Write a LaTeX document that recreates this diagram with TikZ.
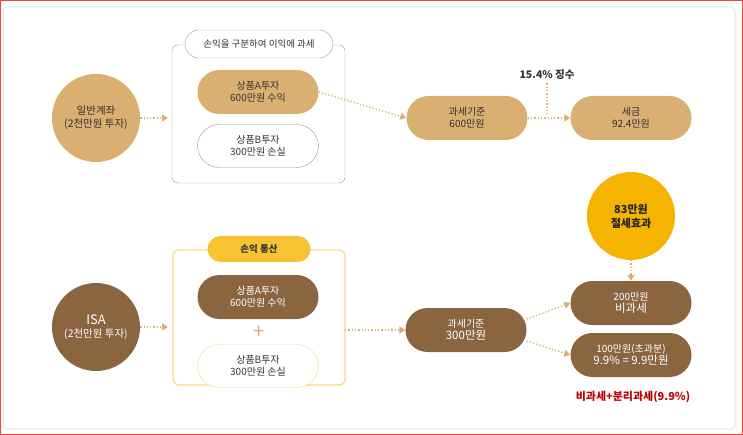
\documentclass[tikz,border=0pt]{standalone}
\usepackage{fontspec}
\setmainfont{Noto Sans CJK KR}
\begin{document}
\begin{tikzpicture}[x=1pt,y=-1pt,
  tan/.style={fill=tanc,draw=none,rounded corners=22pt,minimum width=121pt,minimum height=44pt,align=center,font=\fontsize{10}{12}\selectfont,text=black!80},
  brown/.style={fill=brownc,draw=none,rounded corners=22pt,minimum width=121pt,minimum height=44pt,align=center,font=\fontsize{10}{12}\selectfont,text=white},
  whitep/.style={fill=white,draw=gray!80,rounded corners=22pt,minimum width=121pt,minimum height=43pt,align=center,font=\fontsize{10}{12}\selectfont,text=black!80},
  dots/.style={draw=tanc,line width=1.3pt,dotted,-{Triangle[length=6pt,width=7pt]}},
  circ/.style={circle,minimum size=88pt,align=center,font=\fontsize{10.5}{13}\selectfont}]
\definecolor{tanc}{HTML}{D9AF72}
\definecolor{brownc}{HTML}{8B6440}
\definecolor{yelc}{HTML}{F5B400}
\definecolor{ylight}{HTML}{FAD98A}
\usetikzlibrary{arrows.meta}
\useasboundingbox (0,0) rectangle (743,435);
\draw[red!75,line width=1pt] (0.5,0.5) rectangle (742.5,434.5);
\draw[gray!20,line width=1pt,rounded corners=4pt] (3,7) rectangle (735,429);
% top row
\node[circ,fill=tanc,text=black!80] (c1) at (96,118) {일반계좌\\(2천만원 투자)};
\draw[gray!80,rounded corners=6pt] (172,45) rectangle (345,183);
\node[whitep,minimum width=148pt,minimum height=28pt,rounded corners=14pt,font=\fontsize{9.5}{11}\selectfont] (l1) at (259,44) {손익을 구분하여 이익에 과세};
\coordinate (b1) at (168,118);
\draw[dots] (c1) -- (b1);
\node[tan] (a1) at (258,92) {상품A투자\\600만원 수익};
\node[whitep] (b1p) at (258,146) {상품B투자\\300만원 손실};
\node[tan] (t1) at (467,118) {과세기준\\600만원};
\node[tan] (s1) at (631,118) {세금\\92.4만원};
\draw[dots] (a1.east) -- (t1.west);
\draw[dots] (t1.east) -- (s1.west);
\node[font=\fontsize{10.5}{12}\selectfont\bfseries,text=black!80] (j) at (547,75) {15.4\% 징수};
\coordinate (jm) at (547,116);
\draw[draw=tanc,line width=1.3pt,dotted] (j.south) -- (jm);
% bottom row
\node[circ,fill=brownc,text=white] (c2) at (96,327) {{\fontsize{13}{15}\selectfont ISA}\\(2천만원 투자)};
\draw[ylight,line width=1.3pt,rounded corners=6pt] (173,250) rectangle (345,385);
\node[fill=yelc!80,rounded corners=13pt,minimum width=103pt,minimum height=26pt,font=\fontsize{9.5}{11}\selectfont\bfseries,text=black!80] (l2) at (259,249) {손익 통산};
\coordinate (b2) at (168,327);
\draw[dots] (c2) -- (b2);
\node[brown] (a2) at (258,297) {상품A투자\\600만원 수익};
\node[font=\fontsize{20}{20}\selectfont,text=tanc] (plus) at (259,332) {+};
\node[whitep,draw=ylight] (b2p) at (258,366) {상품B투자\\300만원 손실};
\node[brown] (t2) at (466,330) {과세기준\\{\fontsize{11.5}{14}\selectfont 300만원}};
\node[circ,fill=yelc,text=black!85,font=\fontsize{11}{14}\selectfont\bfseries] (c3) at (631,216) {83만원\\절세효과};
\node[brown] (n1) at (631,303) {200만원\\{\fontsize{11.5}{14}\selectfont 비과세}};
\node[brown] (n2) at (631,355) {100만원(초과분)\\{\fontsize{11.5}{14}\selectfont 9.9\% = 9.9만원}};
\node[text=red!75!black,font=\fontsize{11}{13}\selectfont\bfseries] (r) at (633,397) {비과세+분리과세(9.9\%)};
\draw[dots] (a2.east) ++(0,0) (b2p.east|-t2.west) (345,330) -- (t2.west);
\draw[dots] (t2.east) ++(0,-11) -- (n1.west);
\draw[dots] (t2.east) ++(0,11) -- (n2.west);
\draw[dots] (c3) -- (n1);
\end{tikzpicture}
\end{document}
